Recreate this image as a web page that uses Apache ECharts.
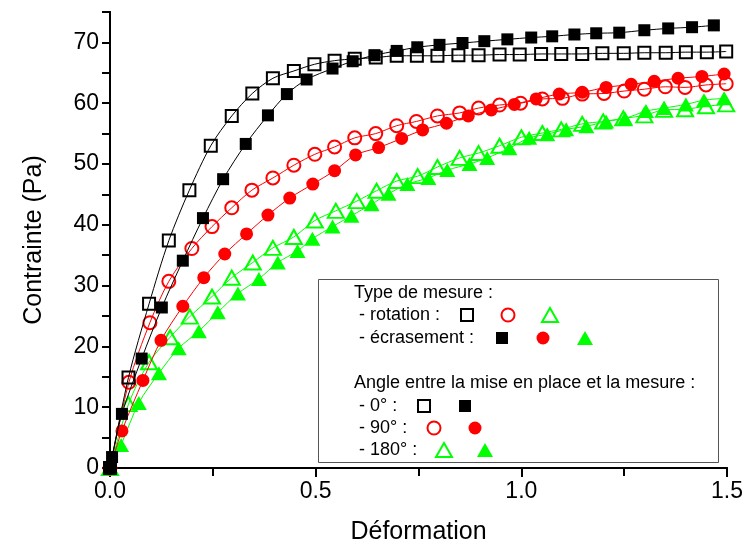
<!DOCTYPE html>
<html>
<head>
<meta charset="utf-8">
<script src="https://cdn.jsdelivr.net/npm/echarts@6/dist/echarts.min.js"></script>
<style>
html,body{margin:0;padding:0;background:#fff;}
#chart{width:746px;height:550px;}
</style>
</head>
<body>
<div id="chart"></div>
<script>
// ---- data ----
const xTickValues = [0, 0.5, 1.0, 1.5];
const yTickValues = [0, 10, 20, 30, 40, 50, 60, 70];

// rotation, 0° (open black squares)
const rot0X = [0, 0.045, 0.095, 0.143, 0.193, 0.245, 0.296, 0.346, 0.396, 0.447, 0.497, 0.546, 0.595, 0.646, 0.697, 0.746, 0.796, 0.847, 0.896, 0.947, 0.996, 1.048, 1.097, 1.148, 1.197, 1.249, 1.299, 1.351, 1.400, 1.451, 1.498];
const rot0Y = [0, 14.9, 27.0, 37.4, 45.7, 53.0, 57.9, 61.6, 64.1, 65.3, 66.4, 67.0, 67.3, 67.5, 67.8, 67.8, 67.8, 67.9, 67.9, 68.0, 68.0, 68.1, 68.1, 68.1, 68.2, 68.2, 68.3, 68.3, 68.4, 68.4, 68.5];

// écrasement, 0° (filled black squares)
const ecr0X = [0, 0.005, 0.029, 0.077, 0.126, 0.177, 0.226, 0.275, 0.330, 0.384, 0.430, 0.478, 0.541, 0.590, 0.643, 0.697, 0.747, 0.801, 0.857, 0.910, 0.966, 1.024, 1.075, 1.129, 1.182, 1.238, 1.299, 1.357, 1.415, 1.468];
const ecr0Y = [0, 1.8, 8.9, 18.0, 26.4, 34.1, 41.1, 47.5, 53.3, 58.0, 61.5, 63.9, 65.7, 66.9, 67.9, 68.6, 69.2, 69.6, 69.9, 70.2, 70.5, 70.8, 71.0, 71.3, 71.5, 71.6, 72.0, 72.3, 72.5, 72.8];

// rotation, 90° (open red circles)
const rot90X = [0, 0.046, 0.097, 0.143, 0.199, 0.248, 0.296, 0.345, 0.396, 0.447, 0.498, 0.546, 0.595, 0.646, 0.697, 0.745, 0.796, 0.850, 0.896, 0.947, 0.998, 1.051, 1.100, 1.148, 1.201, 1.250, 1.299, 1.350, 1.398, 1.449, 1.498];
const rot90Y = [0, 14.1, 23.9, 30.7, 36.1, 39.7, 42.8, 45.7, 47.7, 49.8, 51.6, 52.8, 54.3, 55.0, 56.3, 57.0, 57.9, 58.4, 59.2, 59.7, 60.0, 60.7, 60.8, 61.5, 61.6, 62.0, 62.3, 62.7, 62.6, 63.0, 63.2];

// écrasement, 90° (filled red circles)
const ecr90X = [0, 0.029, 0.080, 0.124, 0.177, 0.228, 0.279, 0.332, 0.384, 0.437, 0.493, 0.546, 0.597, 0.653, 0.709, 0.760, 0.818, 0.871, 0.927, 0.983, 1.036, 1.092, 1.148, 1.206, 1.267, 1.323, 1.381, 1.439, 1.493];
const ecr90Y = [0, 6.1, 14.4, 21.0, 26.6, 31.3, 35.2, 38.5, 41.6, 44.4, 46.7, 48.9, 51.5, 52.7, 54.2, 55.6, 56.7, 57.9, 58.9, 59.8, 60.7, 61.5, 61.8, 62.6, 63.1, 63.6, 64.1, 64.4, 64.8];

// rotation, 180° (open green triangles)
const rot180X = [0, 0.045, 0.095, 0.146, 0.194, 0.248, 0.296, 0.347, 0.396, 0.447, 0.498, 0.549, 0.600, 0.648, 0.697, 0.748, 0.796, 0.850, 0.896, 0.947, 1.000, 1.051, 1.097, 1.148, 1.199, 1.248, 1.299, 1.347, 1.398, 1.449, 1.498];
const rot180Y = [0, 10.5, 17.4, 21.5, 24.9, 28.2, 31.3, 33.8, 36.2, 38.0, 40.7, 42.3, 43.9, 45.6, 47.2, 48.0, 49.5, 51.0, 51.8, 53.0, 54.4, 55.1, 55.7, 56.6, 57.0, 57.5, 58.0, 58.9, 59.0, 59.5, 59.8];

// écrasement, 180° (filled green triangles)
const ecr180X = [0, 0.027, 0.070, 0.119, 0.167, 0.216, 0.262, 0.311, 0.362, 0.408, 0.456, 0.492, 0.541, 0.587, 0.636, 0.677, 0.723, 0.774, 0.820, 0.874, 0.917, 0.971, 1.019, 1.063, 1.109, 1.158, 1.206, 1.252, 1.303, 1.347, 1.400, 1.444, 1.493];
const ecr180Y = [0, 3.8, 10.7, 15.6, 19.7, 22.5, 25.6, 28.7, 31.1, 33.8, 35.7, 37.7, 39.7, 41.5, 43.4, 45.1, 46.7, 47.7, 49.0, 50.0, 51.0, 52.6, 54.3, 54.9, 55.7, 56.2, 57.0, 57.5, 58.7, 59.2, 59.8, 60.5, 60.8];

// ---- chart ----
const FONT = '"Liberation Sans", Arial, sans-serif';
const BLACK = '#000000', RED = '#ff0000', GREEN = '#00ff00';
const zip = (xs, ys) => xs.map((x, i) => [x, ys[i]]);

function lineSeries(name, xs, ys, color, symbol, size, filled, z) {
  return {
    name, type: 'line', xAxisIndex: 0, yAxisIndex: 0,
    data: zip(xs, ys),
    symbol, symbolSize: size, showSymbol: true, smooth: 0.3,
    lineStyle: { color, width: 1 },
    itemStyle: filled ? { color, borderWidth: 0 } : { color: 'rgba(255,255,255,0)', borderColor: color, borderWidth: 2 },
    emphasis: { disabled: true }, z
  };
}

const chart = echarts.init(document.getElementById('chart'), null, { renderer: 'canvas' });

// legend (drawn as graphic)
const L = [];
L.push({ type: 'rect', shape: { x: 318.5, y: 279.5, width: 400, height: 183 }, style: { fill: '#fff', stroke: '#555', lineWidth: 1 }, z: 100 });
function txt(t, x, y) {
  L.push({ type: 'text', x, y, style: { text: t, fontSize: 18, fontFamily: FONT, fill: '#000', verticalAlign: 'middle', align: 'left' }, z: 101 });
}
function sq(cx, cy, color, filled) {
  L.push({ type: 'rect', shape: { x: cx - 6, y: cy - 6, width: 12, height: 12 },
    style: filled ? { fill: color } : { fill: 'none', stroke: color, lineWidth: 2 }, z: 101 });
}
function ci(cx, cy, color, filled) {
  L.push({ type: 'circle', shape: { cx, cy, r: 6.5 },
    style: filled ? { fill: color } : { fill: 'none', stroke: color, lineWidth: 2 }, z: 101 });
}
function tri(cx, cy, color, filled) {
  L.push({ type: 'polygon', shape: { points: [[cx, cy - 7], [cx + 8, cy + 7], [cx - 8, cy + 7]] },
    style: filled ? { fill: color } : { fill: 'none', stroke: color, lineWidth: 2 }, z: 101 });
}
txt('Type de mesure :', 354, 293);
txt('- rotation :', 359, 315);
sq(467, 315, BLACK, false); ci(508, 315, RED, false); tri(550, 315, GREEN, false);
txt('- écrasement :', 359, 338);
sq(502, 338, BLACK, true); ci(543, 338, RED, true); tri(585, 338, GREEN, true);
txt('Angle entre la mise en place et la mesure :', 354, 383);
txt('- 0° :', 359, 406);
sq(424, 406, BLACK, false); sq(465, 406, BLACK, true);
txt('- 90° :', 359, 428);
ci(434, 428, RED, false); ci(475, 428, RED, true);
txt('- 180° :', 359, 450);
tri(444, 450, GREEN, false); tri(485, 450, GREEN, true);

const axisLineStyle = { color: '#000', width: 2 };

chart.setOption({
  animation: false,
  backgroundColor: '#fff',
  grid: { left: 110, right: 18, top: 12, bottom: 82, containLabel: false },
  xAxis: [
    {
      type: 'value', position: 'bottom', min: 0, max: 1.5, interval: 0.5,
      axisLine: { show: true, lineStyle: axisLineStyle },
      axisTick: { show: true, inside: false, length: 9, lineStyle: { color: '#000', width: 2 } },
      minorTick: { show: true, splitNumber: 2, length: 5, lineStyle: { color: '#000', width: 2 } },
      splitLine: { show: false }, minorSplitLine: { show: false },
      axisLabel: { formatter: v => xTickValues.includes(v) ? v.toFixed(1) : '', fontSize: 23, fontFamily: FONT, color: '#000', margin: 12 },
      name: 'Déformation', nameLocation: 'middle', nameGap: 52,
      nameTextStyle: { fontSize: 25, fontFamily: FONT, color: '#000' }
    },
    {
      type: 'value', position: 'top', min: 0, max: 1.5, interval: 0.25,
      axisLine: { show: true, lineStyle: axisLineStyle },
      axisTick: { show: true, inside: true, length: 8, lineStyle: { color: '#000', width: 2 } },
      axisLabel: { show: false }, splitLine: { show: false }
    }
  ],
  yAxis: [
    {
      type: 'value', position: 'left', min: 0, max: 75, interval: 5,
      axisLine: { show: true, lineStyle: axisLineStyle },
      axisTick: { show: true, inside: false, length: 8, lineStyle: { color: '#000', width: 2 } },
      splitLine: { show: false },
      axisLabel: { formatter: v => yTickValues.includes(v) ? String(v) : '', fontSize: 23, fontFamily: FONT, color: '#000', margin: 11 },
      name: 'Contrainte (Pa)', nameLocation: 'middle', nameGap: 63,
      nameTextStyle: { fontSize: 25, fontFamily: FONT, color: '#000' }
    },
    {
      type: 'value', position: 'right', min: 0, max: 75, interval: 5,
      axisLine: { show: true, lineStyle: axisLineStyle },
      axisTick: { show: true, inside: true, length: 5, lineStyle: { color: '#000', width: 2 } },
      axisLabel: { show: false }, splitLine: { show: false }
    }
  ],
  series: [
    lineSeries('rotation 180°', rot180X, rot180Y, GREEN, 'triangle', [16, 14], false, 2),
    lineSeries('écrasement 180°', ecr180X, ecr180Y, GREEN, 'triangle', [16, 14], true, 3),
    lineSeries('rotation 90°', rot90X, rot90Y, RED, 'circle', 13, false, 4),
    lineSeries('écrasement 90°', ecr90X, ecr90Y, RED, 'circle', 13, true, 5),
    lineSeries('écrasement 0°', ecr0X, ecr0Y, BLACK, 'rect', 12, true, 6),
    lineSeries('rotation 0°', rot0X, rot0Y, BLACK, 'rect', 12, false, 7)
  ],
  graphic: L
});
</script>
</body>
</html>
